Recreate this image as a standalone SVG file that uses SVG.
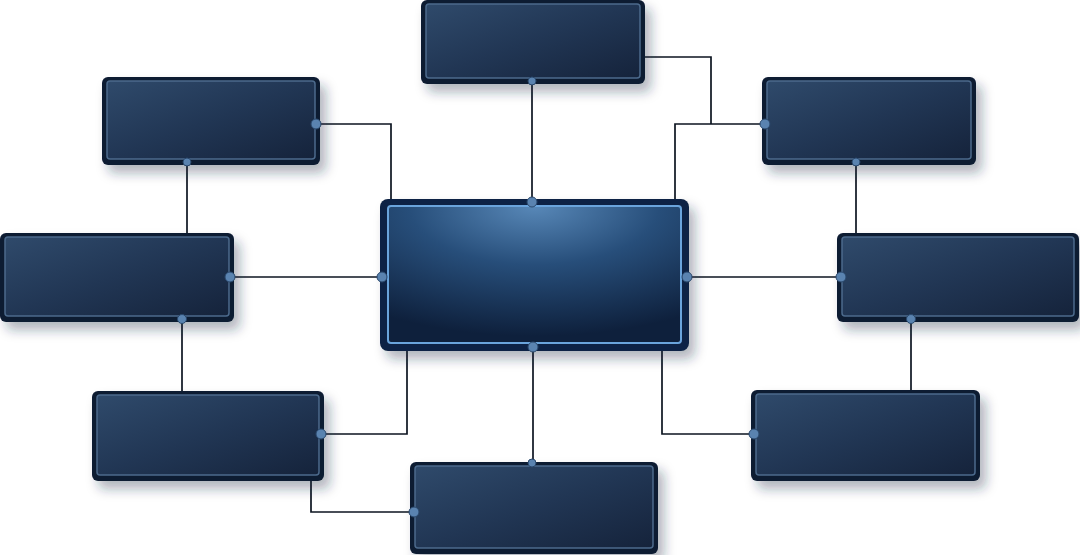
<svg xmlns="http://www.w3.org/2000/svg" width="1080" height="555" viewBox="0 0 1080 555">
<defs>
<linearGradient id="gNode" x1="0" y1="0" x2="1" y2="1">
<stop offset="0" stop-color="#2f4a6b"/>
<stop offset="0.5" stop-color="#213654"/>
<stop offset="1" stop-color="#15233b"/>
</linearGradient>
<radialGradient id="gCenter" cx="0.5" cy="0" r="0.95" fx="0.5" fy="0">
<stop offset="0" stop-color="#5888b8"/>
<stop offset="0.45" stop-color="#274e7a"/>
<stop offset="1" stop-color="#0e203c"/>
</radialGradient>
<filter id="sh" x="-10%" y="-10%" width="125%" height="135%">
<feDropShadow dx="6" dy="8" stdDeviation="6" flood-color="#1a2a3f" flood-opacity="0.35"/>
</filter>
</defs>
<style>
.frame{fill:#0c1b33;filter:url(#sh)}
.inner{fill:url(#gNode);stroke:#4c6a8c;stroke-width:1.5}
.cframe{fill:#0e2444;filter:url(#sh)}
.cinner{fill:url(#gCenter);stroke:#6aa4dc;stroke-width:2}
.conn{fill:none;stroke:#0c1420;stroke-width:1.7}
.dot{fill:#5a83b0;stroke:#2a486c;stroke-width:1}
</style>
<rect width="1080" height="555" fill="#ffffff"/>
<g id="connectors">
<path class="conn" d="M532 81V201"/>
<path class="conn" d="M645 57H711V124"/>
<path class="conn" d="M675 200V124H765"/>
<path class="conn" d="M316 124H391V200"/>
<path class="conn" d="M187 162V233"/>
<path class="conn" d="M230 277H382"/>
<path class="conn" d="M182 319V391"/>
<path class="conn" d="M407 351V434H321"/>
<path class="conn" d="M311 481V512H414"/>
<path class="conn" d="M533 347V463"/>
<path class="conn" d="M662 351V434H754"/>
<path class="conn" d="M856 162V233"/>
<path class="conn" d="M911 319V390"/>
<path class="conn" d="M687 277H841"/>
</g>
<g id="node-top">
<rect class="frame" x="421" y="0" width="224" height="84" rx="6"/>
<rect class="inner" x="426" y="4" width="214" height="74" rx="3"/>
<circle class="dot" cx="532" cy="81" r="4"/>
</g>
<g id="node-top-left">
<rect class="frame" x="102" y="77" width="218" height="88" rx="6"/>
<rect class="inner" x="107" y="81" width="208" height="78" rx="3"/>
<circle class="dot" cx="316" cy="124" r="5"/>
<circle class="dot" cx="187" cy="162" r="4"/>
</g>
<g id="node-top-right">
<rect class="frame" x="762" y="77" width="214" height="88" rx="6"/>
<rect class="inner" x="767" y="81" width="204" height="78" rx="3"/>
<circle class="dot" cx="765" cy="124" r="5"/>
<circle class="dot" cx="856" cy="162" r="4"/>
</g>
<g id="node-left">
<rect class="frame" x="0" y="233" width="234" height="89" rx="6"/>
<rect class="inner" x="5" y="237" width="224" height="79" rx="3"/>
<circle class="dot" cx="230" cy="277" r="5"/>
<circle class="dot" cx="182" cy="319" r="4.5"/>
</g>
<g id="node-right">
<rect class="frame" x="837" y="233" width="242" height="89" rx="6"/>
<rect class="inner" x="842" y="237" width="232" height="79" rx="3"/>
<circle class="dot" cx="841" cy="277" r="5"/>
<circle class="dot" cx="911" cy="319" r="4.5"/>
</g>
<g id="node-bottom-left">
<rect class="frame" x="92" y="391" width="232" height="90" rx="6"/>
<rect class="inner" x="97" y="395" width="222" height="80" rx="3"/>
<circle class="dot" cx="321" cy="434" r="5"/>
</g>
<g id="node-bottom">
<rect class="frame" x="410" y="462" width="248" height="92" rx="6"/>
<rect class="inner" x="415" y="466" width="238" height="82" rx="3"/>
<circle class="dot" cx="532" cy="463" r="4"/>
<circle class="dot" cx="414" cy="512" r="5"/>
</g>
<g id="node-bottom-right">
<rect class="frame" x="751" y="390" width="229" height="91" rx="6"/>
<rect class="inner" x="756" y="394" width="219" height="81" rx="3"/>
<circle class="dot" cx="754" cy="434" r="5"/>
</g>
<g id="node-center">
<rect class="cframe" x="380" y="199" width="309" height="152" rx="8"/>
<rect class="cinner" x="388" y="206" width="293" height="137" rx="3"/>
<circle class="dot" cx="532" cy="202" r="5"/>
<circle class="dot" cx="533" cy="347" r="5"/>
<circle class="dot" cx="382" cy="277" r="5"/>
<circle class="dot" cx="687" cy="277" r="5"/>
</g>
</svg>
